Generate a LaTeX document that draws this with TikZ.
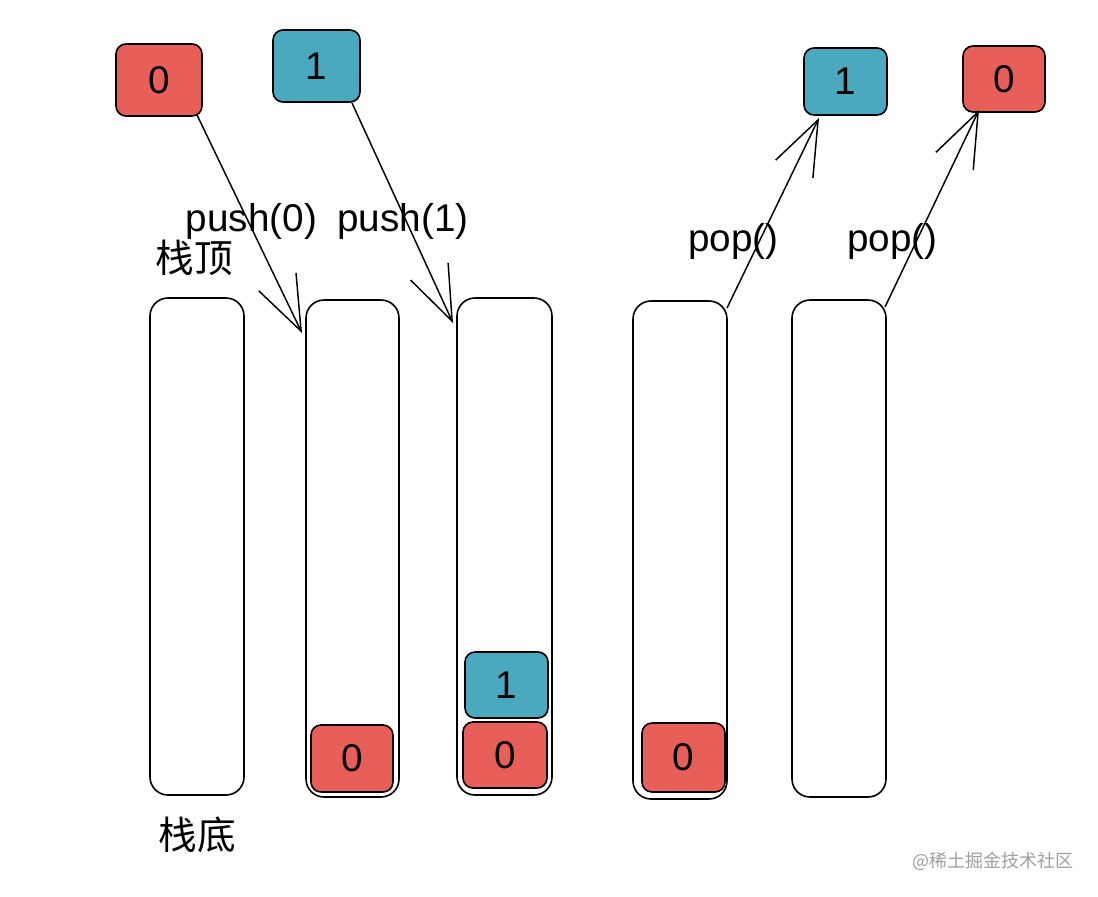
\documentclass[tikz,border=0pt]{standalone}
\usepackage{fontspec}
\setmainfont{Liberation Sans}
\newfontfamily\cjk{Noto Sans CJK SC}
\usetikzlibrary{arrows.meta,calc}
\definecolor{redfill}{RGB}{232,94,88}
\definecolor{tealfill}{RGB}{74,168,191}
\definecolor{wmgray}{RGB}{160,160,160}
\tikzset{
  stackbox/.style={draw=black, line width=1.2pt, fill=white, rounded corners=13.5pt, inner sep=0pt, outer sep=0pt},
  valbox/.style={draw=black, line width=1.2pt, rounded corners=7.5pt, inner sep=0pt, outer sep=0pt, font=\fontsize{29}{32}\selectfont},
  redval/.style={valbox, fill=redfill},
  tealval/.style={valbox, fill=tealfill},
  bigarrow/.style={line width=1.1pt, -{Straight Barb[length=41pt, width=31pt, line width=1.1pt]}},
  lbl/.style={inner sep=0pt, font=\fontsize{29}{32}\selectfont},
  cjklbl/.style={inner sep=0pt, font=\cjk\fontsize{29}{32}\selectfont},
}
\begin{document}
\begin{tikzpicture}[x=0.75pt, y=-0.75pt]
\useasboundingbox[fill=white] (0,0) rectangle (1098,896);
% containers
\node[stackbox, minimum width=70.5pt, minimum height=372.75pt] (c1) at (197,546.5) {};
\node[stackbox, minimum width=69.75pt, minimum height=372.75pt] (c2) at (352.5,548.5) {};
\node[stackbox, minimum width=71.25pt, minimum height=372.75pt] (c3) at (504.5,546.5) {};
\node[stackbox, minimum width=70.5pt, minimum height=373.5pt] (c4) at (680,550) {};
\node[stackbox, minimum width=70.5pt, minimum height=372.75pt] (c5) at (839,548.5) {};
% value boxes
\node[redval, minimum width=64.5pt, minimum height=54pt] (r0) at (159,80) {0};
\node[tealval, minimum width=65.25pt, minimum height=54pt] (t1) at (316.5,66) {1};
\node[redval, minimum width=61.5pt, minimum height=50.25pt] (c2r) at (352,758.5) {0};
\node[tealval, minimum width=62.25pt, minimum height=49.5pt] (c3t) at (506.5,685) {1};
\node[redval, minimum width=63pt, minimum height=49.5pt] (c3r) at (505,755) {0};
\node[redval, minimum width=62.25pt, minimum height=51.75pt] (c4r) at (683.5,757.5) {0};
\node[tealval, minimum width=62.25pt, minimum height=50.25pt] (pt1) at (845.5,81.5) {1};
\node[redval, minimum width=61.5pt, minimum height=49.5pt] (pr0) at (1004,79) {0};
% arrows
\draw[bigarrow] ($(r0.south east)+(-5,-1)$) -- ($(c2.north west)+(-4,33)$);
\draw[bigarrow] ($(t1.south east)+(-8,1)$) -- ($(c3.north west)+(-4,25)$);
\draw[bigarrow] ($(c4.north east)+(0,7)$) -- ($(pt1.south west)+(15,3)$);
\draw[bigarrow] ($(c5.north east)+(-1,7)$) -- ($(pr0.south west)+(16,-2)$);
% labels
\node[lbl] (lp0) at (251.5,221) {push(0)};
\node[lbl] (lp1) at (403,221) {push(1)};
\node[lbl] (lq1) at (733.5,241) {pop()};
\node[lbl] (lq2) at (892.5,241) {pop()};
\node[cjklbl] (top) at (194,258) {栈顶};
\node[cjklbl] (bot) at (197,835) {栈底};
\node[inner sep=0pt, text=wmgray, font=\cjk\fontsize{13.5}{15}\selectfont] (wm) at (993,861) {@稀土掘金技术社区};
\end{tikzpicture}
\end{document}
